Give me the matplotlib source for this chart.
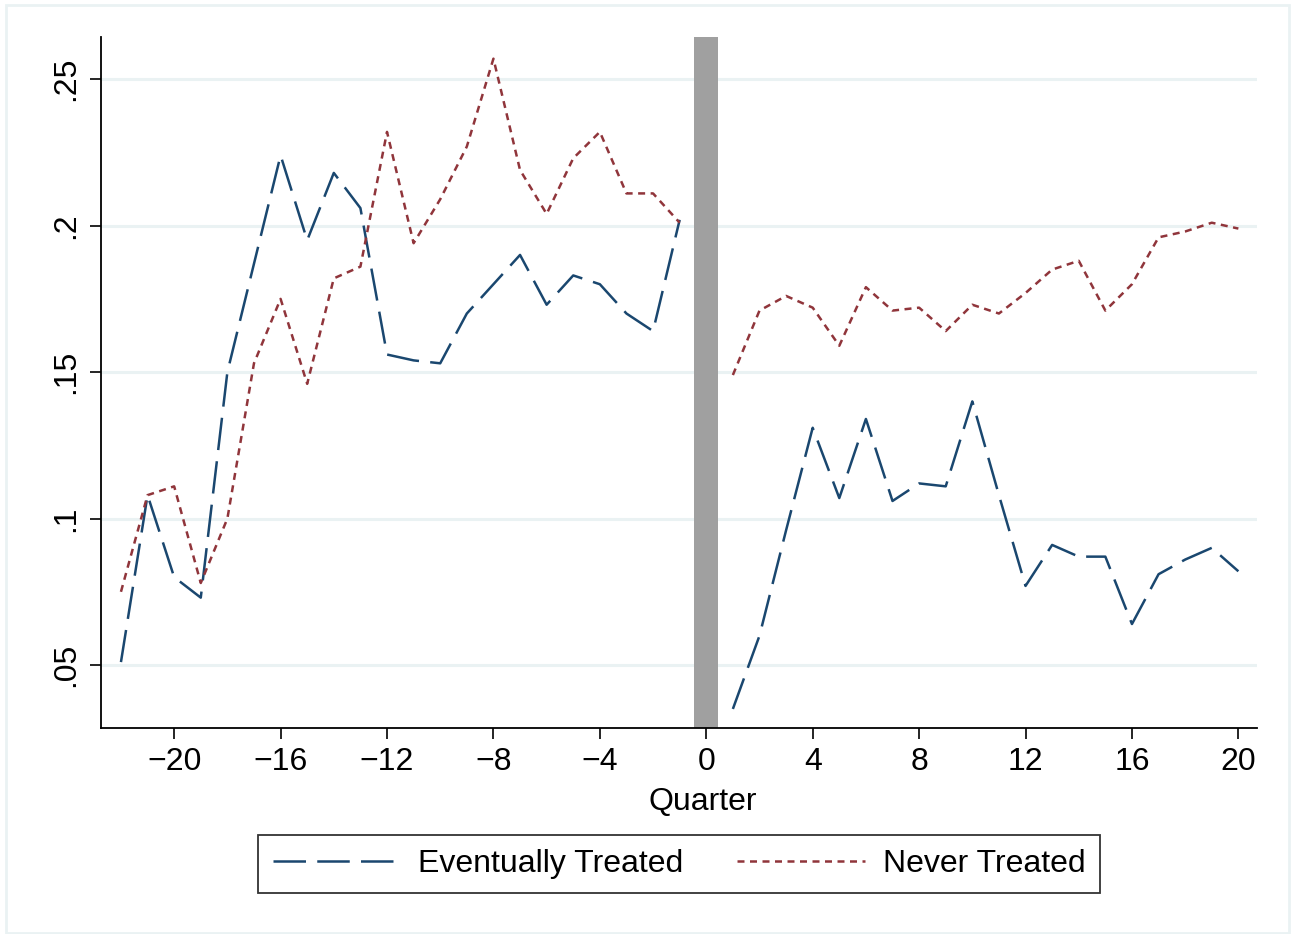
import numpy as np
import matplotlib
matplotlib.use("Agg")
import matplotlib.pyplot as plt
from matplotlib.patches import Rectangle

plt.rcParams['font.family'] = ['Liberation Sans', 'DejaVu Sans']

# quarters relative to treatment (0 omitted)
quarters_pre = list(range(-22, 0))
quarters_post = list(range(1, 21))

# share of outcome, eventually treated group
treated_pre = [0.051, 0.108, 0.080, 0.073, 0.150, 0.187, 0.224, 0.195, 0.218, 0.206,
               0.156, 0.154, 0.153, 0.170, 0.180, 0.190, 0.173, 0.183, 0.180, 0.170,
               0.164, 0.202]
treated_post = [0.035, 0.060, 0.096, 0.131, 0.107, 0.134, 0.106, 0.112, 0.111, 0.140,
                0.108, 0.077, 0.091, 0.087, 0.087, 0.064, 0.081, 0.086, 0.090, 0.082]

# share of outcome, never treated group
never_pre = [0.075, 0.108, 0.111, 0.078, 0.100, 0.153, 0.175, 0.146, 0.182, 0.186,
             0.232, 0.194, 0.209, 0.227, 0.257, 0.219, 0.204, 0.223, 0.232, 0.211,
             0.211, 0.201]
never_post = [0.149, 0.171, 0.176, 0.172, 0.159, 0.179, 0.171, 0.172, 0.164, 0.173,
              0.170, 0.177, 0.185, 0.188, 0.171, 0.180, 0.196, 0.198, 0.201, 0.199]

xticks = list(range(-20, 21, 4))
yticks = [0.05, 0.10, 0.15, 0.20, 0.25]
ytick_labels = ['.05', '.1', '.15', '.2', '.25']

navy = '#1a476f'
maroon = '#90353b'
grid_col = '#eaf2f3'

fig = plt.figure(figsize=(12.91, 9.34), dpi=100)
ax = fig.add_axes([101/1291, 1 - 728/934, (1257-101)/1291, (728-37)/934])

# outer frame of the graph region
fig.patches.append(Rectangle((6/1291, 1/934), 1283/1291, 928/934, transform=fig.transFigure,
                             fill=False, edgecolor=grid_col, linewidth=2))

ax.axvspan(-0.45, 0.43, color='#a0a0a0', zorder=1, lw=0)

for yv in yticks:
    ax.axhline(yv, color=grid_col, lw=2.2, zorder=0)

lw = 1.8
long_dash = (13, 4.5)
short_dash = (2.8, 2.2)
l1, = ax.plot(quarters_pre, treated_pre, color=navy, lw=lw, dashes=long_dash, zorder=3)
ax.plot(quarters_post, treated_post, color=navy, lw=lw, dashes=long_dash, zorder=3)
l2, = ax.plot(quarters_pre, never_pre, color=maroon, lw=lw, dashes=short_dash, zorder=3)
ax.plot(quarters_post, never_post, color=maroon, lw=lw, dashes=short_dash, zorder=3)

ax.set_xlim(-22.75, 20.7)
ax.set_ylim(0.0285, 0.2644)
ax.set_xticks(xticks)
ax.set_xticklabels([str(t).replace('-', '\u2212') for t in xticks])
ax.set_yticks(yticks)
ax.set_yticklabels(ytick_labels, rotation=90, va='center')
ax.tick_params(axis='both', direction='out', length=8, width=1.2, labelsize=23, pad=6)
ax.set_xlabel('Quarter', fontsize=23, labelpad=2)
ax.xaxis.set_label_coords((703-101)/1156, -0.085)

for side in ['top', 'right']:
    ax.spines[side].set_visible(False)
for side in ['left', 'bottom']:
    ax.spines[side].set_linewidth(1.3)

leg = fig.legend([l1, l2], ['Eventually Treated', 'Never Treated'], loc='center',
                 bbox_to_anchor=(679/1291, 1 - 864/934), ncol=2, fontsize=23,
                 frameon=True, fancybox=False, edgecolor='black', handlelength=4.0,
                 columnspacing=1.7, borderpad=0.45, borderaxespad=0, handletextpad=0.55)
leg.get_frame().set_linewidth(1.3)

fig.savefig('out.png', dpi=100)
